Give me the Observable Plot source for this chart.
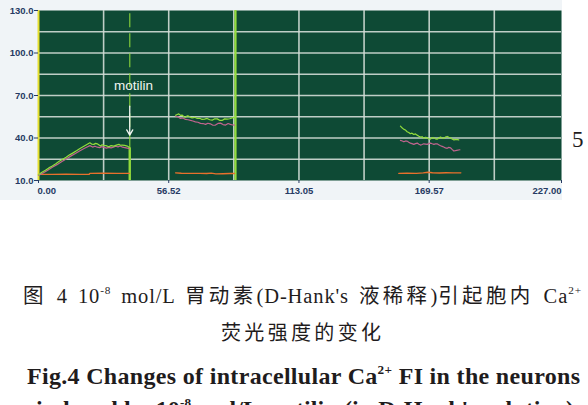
<!DOCTYPE html>
<html><head><meta charset="utf-8">
<script src="https://cdn.jsdelivr.net/npm/d3@7"></script>
<script src="https://cdn.jsdelivr.net/npm/@observablehq/plot@0.6"></script>
<style>
html,body{margin:0;padding:0;background:#fff;width:588px;height:405px;overflow:hidden;position:relative}
#chart{position:absolute;left:0;top:0}
#cap{position:absolute;left:0;top:0;pointer-events:none}
</style>
</head><body>
<div id="chart"></div>
<svg id="cap" width="588" height="405" xmlns="http://www.w3.org/2000/svg"></svg>
<script>
// ---- axis ticks ----
const xTickValues = [0, 56.52, 113.05, 169.57, 227.00];
const xGridValues = [28.26, 56.52, 84.78, 113.05, 141.31, 169.57, 197.83];
const yTickValues = [10, 40, 70, 100, 130];
const yGridValues = [25, 40, 55, 70, 85, 100, 115];

// ---- event markers (time) ----
const motilinTime = 39.6;
const endTime = 85.5;
const annotationLabel = "motilin";

// ---- traces: [time, intensity] ----
const green1 = [[0,14.0],[1.5,15.8],[3,17.2],[4.5,18.9],[6,20.3],[7.5,21.8],[9,23.6],[10.5,25.0],[12,26.4],[13.5,28.1],[15,29.5],[16.5,31.0],[18,32.6],[19.5,34.0],[21,35.4],[22.3,36.6],[23.2,35.6],[24.0,35.5],[24.8,36.2],[25.5,35.9],[26.9,34.3],[27.6,35.2],[28.3,34.8],[29.3,34.6],[30.5,33.8],[31.5,34.6],[32.7,34.3],[33.8,35.0],[34.9,35.5],[35.6,34.9],[36.3,35.0],[37.4,34.8],[38.5,34.3],[39.0,33.8],[39.5,33.1]];
const pink1 = [[0,13.6],[2,15.3],[4,17.3],[6,19.4],[8,21.2],[10,23.3],[12,25.2],[14,27.2],[16,29.1],[18,31.0],[20,32.8],[22.3,34.6],[23.5,33.6],[24.5,34.2],[25.5,33.5],[26.5,33.2],[27.5,33.9],[28.5,33.4],[29.5,32.9],[30.5,33.4],[31.5,33.0],[32.5,33.6],[33.5,34.2],[34.5,33.7],[35.5,34.4],[36.5,33.5],[37.5,33.2],[38.5,32.9],[39.5,32.4]];
const orange1 = [[0,14.3],[6,14.3],[12,14.4],[18,14.3],[22.0,14.4],[22.3,15.0],[28,15.1],[34,15.0],[39.5,15.0]];

const green2 = [[59.5,56.1],[60.2,56.6],[60.9,57.0],[61.6,56.0],[62.4,56.1],[63.1,55.0],[63.8,54.7],[64.5,55.6],[65.2,55.4],[66.0,54.6],[66.7,54.2],[67.8,54.6],[68.9,53.8],[70.0,53.9],[71.0,53.1],[72.1,53.3],[73.2,53.8],[74.3,52.9],[75.4,52.6],[76.5,53.6],[77.6,53.5],[78.6,52.5],[79.7,52.4],[80.8,53.5],[81.9,53.3],[83.0,53.6],[84.1,54.2],[85.1,54.7]];
const pink2 = [[59.5,55.4],[60.5,55.0],[61.6,53.8],[62.7,54.1],[63.8,53.1],[64.9,52.9],[66.0,52.4],[67.0,52.0],[68.1,51.4],[69.2,51.1],[70.3,50.3],[71.4,50.2],[72.5,49.6],[73.5,50.4],[74.6,50.0],[75.7,49.0],[76.8,49.1],[77.9,50.3],[79.0,50.5],[80.1,49.5],[81.2,49.1],[82.3,50.2],[83.3,49.6],[84.2,49.2],[85.1,49.1]];
const orange2 = [[59.5,15.4],[62,15.1],[66,15.0],[70,15.0],[73,14.9],[75,15.2],[77,14.7],[80,14.8],[83,14.9],[85.1,14.9]];

const green3 = [[157.1,48.4],[157.9,47.0],[158.6,46.1],[159.3,45.6],[160.0,44.4],[160.7,43.9],[161.4,43.0],[162.1,43.4],[162.9,42.5],[163.6,42.9],[164.4,42.0],[165.1,41.2],[165.8,40.6],[166.5,40.9],[167.2,39.7],[168.0,40.5],[168.7,40.1],[169.4,39.5],[170.1,39.2],[170.9,40.3],[171.6,40.1],[172.3,39.4],[173.0,39.2],[173.7,39.9],[174.5,40.6],[175.2,40.0],[175.9,39.7],[176.6,40.6],[177.4,41.1],[178.1,40.5],[178.8,40.1],[179.5,39.3],[180.3,38.7],[181.3,39.0],[182.4,38.7]];
const pink3 = [[157.1,38.3],[157.9,37.9],[158.6,37.3],[159.3,37.9],[160.0,37.8],[160.7,37.0],[161.4,36.4],[162.1,36.0],[162.9,35.5],[163.6,36.0],[164.4,36.4],[165.1,35.6],[165.8,35.0],[166.5,35.4],[167.2,35.9],[168.0,35.7],[168.7,35.5],[169.4,36.0],[170.1,36.4],[170.9,35.9],[171.6,35.5],[172.3,35.8],[173.0,35.9],[173.7,35.2],[174.5,34.5],[175.2,34.1],[175.9,33.6],[176.6,33.0],[177.4,32.7],[178.1,33.4],[178.8,33.1],[179.5,32.0],[180.3,30.8],[181.5,31.3],[182.9,31.7]];
const orange3 = [[156.4,15.0],[160,15.1],[164,15.0],[167,15.4],[169,15.8],[171,15.5],[174,15.3],[177,15.5],[180,15.4],[183.3,15.4]];

// ---- build tables ----
const toRows = (segs) => segs.flatMap((s, i) => s.map(([t, v]) => ({t, v, seg: i})));
const greenRows = toRows([green1, green2, green3]);
const pinkRows = toRows([pink1, pink2, pink3]);
const orangeRows = toRows([orange1, orange2, orange3]);
const dropTop = green1[green1.length - 1][1];

const BG = "#0e4a35", GRID = "#d3ddd6", LIME = "#92dc3c", PINK = "#c0648e", ORANGE = "#e8702c", YELLOW = "#e6e030";
const INK = "#263a63";
const tickFont = "Liberation Sans, Arial, sans-serif";

const chart = Plot.plot({
  width: 562, height: 200,
  marginLeft: 38, marginRight: 1, marginTop: 10, marginBottom: 20,
  x: {domain: [0, 227], axis: null},
  y: {domain: [10, 130], axis: null},
  style: {background: "#f0f4f7", fontFamily: tickFont, color: INK, overflow: "visible"},
  marks: [
    Plot.frame({fill: BG, stroke: "none"}),
    Plot.ruleY(yGridValues, {stroke: GRID, strokeWidth: 1.6, strokeOpacity: 0.9}),
    Plot.ruleX(xGridValues, {stroke: GRID, strokeWidth: 1.6, strokeOpacity: 0.9}),
    Plot.ruleX([0], {stroke: YELLOW, strokeWidth: 2}),
    Plot.ruleX([motilinTime], {y1: dropTop, y2: 130, stroke: LIME, strokeWidth: 1.4, strokeOpacity: 0.75, strokeDasharray: "14,6"}),
    Plot.ruleX([motilinTime], {y1: 10, y2: dropTop, stroke: LIME, strokeWidth: 2.4}),
    Plot.ruleX([endTime], {stroke: LIME, strokeWidth: 2.2}),
    Plot.line(orangeRows, {x: "t", y: "v", z: "seg", stroke: ORANGE, strokeWidth: 1.4}),
    Plot.line(pinkRows, {x: "t", y: "v", z: "seg", stroke: PINK, strokeWidth: 1.2}),
    Plot.line(greenRows, {x: "t", y: "v", z: "seg", stroke: LIME, strokeWidth: 1.2}),
    Plot.text([annotationLabel], {x: motilinTime + 1.6, y: 77, text: d => d, fill: "#f2f5f2", fontSize: 13.5, fontFamily: tickFont}),
    Plot.arrow([{x: motilinTime, y1: 62.5, y2: 42}], {x1: "x", x2: "x", y1: "y1", y2: "y2", stroke: "#f2f5f2", strokeWidth: 1.3, headLength: 7}),
    Plot.axisY({ticks: yTickValues, tickFormat: d => d.toFixed(1), tickSize: 4, tickPadding: 1, fontSize: 9.5, fontWeight: "bold"}),
    Plot.axisX({ticks: xTickValues, tickSize: 3, tickFormat: () => ""}),
    Plot.text([xTickValues[0]], {x: d => d, frameAnchor: "bottom", dy: 13, dx: -1, textAnchor: "start", text: d => d.toFixed(2), fontSize: 9.5, fontWeight: "bold", fill: INK}),
    Plot.text(xTickValues.slice(1, -1), {x: d => d, frameAnchor: "bottom", dy: 13, textAnchor: "middle", text: d => d.toFixed(2), fontSize: 9.5, fontWeight: "bold", fill: INK}),
    Plot.text([xTickValues[xTickValues.length - 1]], {x: d => d, frameAnchor: "bottom", dy: 13, textAnchor: "end", text: d => d.toFixed(2), fontSize: 9.5, fontWeight: "bold", fill: INK})
  ]
});
document.getElementById("chart").appendChild(chart);

// ---- captions ----
const cap = d3.select("#cap");
const serifCJK = "'Liberation Serif', 'Noto Sans CJK SC', serif";
// parts: plain string, {s, sup:true}, {s, cjk:true}
function line(x, y, size, weight, len, parts, cjkLs, maxWs) {
  const t = cap.append("text").attr("x", x).attr("y", y)
    .attr("font-family", serifCJK).attr("font-size", size).attr("font-weight", weight)
    .attr("fill", "#1f1c1d");
  let pendingDy = 0;
  let spaces = 0;
  for (const p of parts) {
    const o = typeof p === "string" ? {s: p} : p;
    const ts = t.append("tspan").text(o.s);
    spaces += (o.s.match(/ /g) || []).length;
    if (o.sup) {
      ts.attr("dy", -size * 0.42).attr("font-size", size * 0.55);
      pendingDy = size * 0.42;
    } else {
      if (pendingDy) { ts.attr("dy", pendingDy); pendingDy = 0; }
      if (o.cjk) ts.attr("letter-spacing", cjkLs);
    }
  }
  if (maxWs && spaces) {
    const w = t.node().getComputedTextLength();
    const ws = Math.min(maxWs, Math.max(0, (len - w) / spaces));
    t.attr("word-spacing", ws);
  }
  if (len) t.attr("textLength", len).attr("lengthAdjust", "spacing");
}
line(23, 303, 20.5, "normal", 558, [{s: "图", cjk: true}, " 4  10", {s: "-8", sup: true}, " mol/L ", {s: "胃动素", cjk: true}, "(D-Hank's ", {s: "液稀释", cjk: true}, ")", {s: "引起胞内", cjk: true}, " Ca", {s: "2+", sup: true}], 2.5, 4);
line(221, 340, 20, "normal", 164, [{s: "荧光强度的变化", cjk: true}], 4, 0);
line(27, 384, 24, "bold", 553, ["Fig.4  Changes of intracellular Ca", {s: "2+", sup: true}, " FI in the neurons"], 0, 0);
line(36, 417, 24, "bold", 538, ["induced by 10", {s: "-8", sup: true}, " mol/L motilin (in D-Hank's solution)"], 0, 0);
cap.append("text").attr("x", 572).attr("y", 147).attr("font-family", serifCJK).attr("font-size", 23).attr("fill", "#1f1c1d").text("5");
</script>
</body></html>
